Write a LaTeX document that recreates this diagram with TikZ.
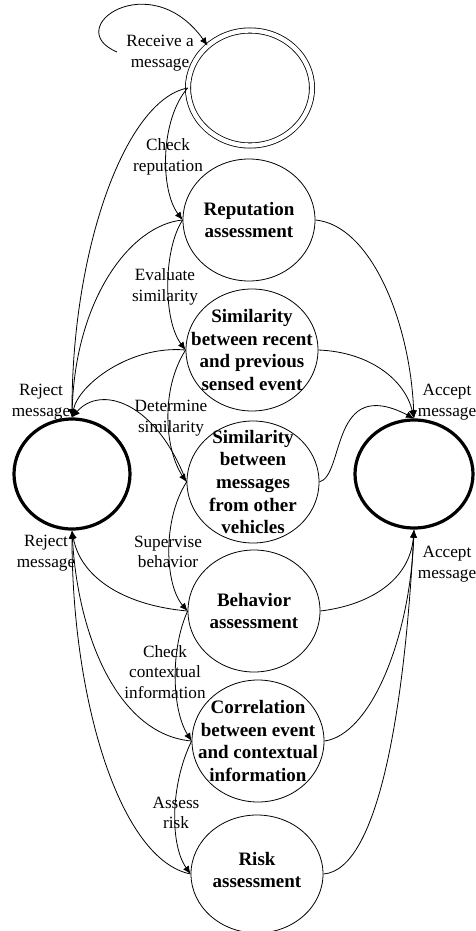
\documentclass[tikz,border=0pt]{standalone}
\usepackage{fontspec}
\setmainfont{Liberation Serif}
\usetikzlibrary{shapes.geometric,arrows.meta}
\begin{document}
\begin{tikzpicture}[x=0.5pt,y=-0.5pt,>={Latex[length=4pt,width=3.4pt]},
  state/.style={draw,ellipse,inner sep=0pt,minimum width=66pt,minimum height=61pt},
  stxt/.style={align=center,inner sep=0pt,font=\fontsize{9.5}{11.3}\selectfont\bfseries},
  lbl/.style={align=center,inner sep=0pt,font=\fontsize{8.6}{10.2}\selectfont},
  final/.style={draw,ellipse,line width=1.6pt,inner sep=0pt}]
\useasboundingbox (0,0) rectangle (476,931);
% states
\node[state,double,double distance=2.2pt,minimum width=62pt,minimum height=57.5pt] (start) at (250,88) {};
\node[state] (rep) at (249,220) {};
\node[stxt] (rep-t) at (rep) {Reputation\\assessment};
\node[state] (simrec) at (252,350) {};
\node[stxt] (simrec-t) at (simrec) {Similarity\\between recent\\and previous\\sensed event};
\node[state] (simmsg) at (253,482) {};
\node[stxt] (simmsg-t) at (simmsg) {Similarity\\between\\messages\\from other\\vehicles};
\node[state] (beh) at (254,611) {};
\node[stxt] (beh-t) at (beh) {Behavior\\assessment};
\node[state] (corr) at (258,741) {};
\node[stxt] (corr-t) at (corr) {Correlation\\between event\\and contextual\\information};
\node[state,minimum height=59pt] (risk) at (257,874) {};
\node[stxt] (risk-t) at (257,870) {Risk\\assessment};
\node[final,minimum width=58pt,minimum height=55pt] (reject) at (72,474) {};
\node[final,minimum width=59pt,minimum height=54pt] (accept) at (414,474) {};
% labels
\node[lbl] (recv) at (160,53) {Receive a\\message};
\node[lbl] (chkrep) at (168,157) {Check\\reputation};
\node[lbl] (evalsim) at (165,287) {Evaluate\\similarity};
\node[lbl] (detsim) at (171,418) {Determine\\similarity};
\node[lbl] (supbeh) at (168,552) {Supervise\\behavior};
\node[lbl] (chkctx) at (165,672) {Check\\contextual\\information};
\node[lbl] (assrisk) at (176,813) {Assess\\risk};
\node[lbl] (rejtop) at (41,402) {Reject\\message};
\node[lbl] (rejbot) at (46,553) {Reject\\message};
\node[lbl] (acctop) at (447,402) {Accept\\message};
\node[lbl] (accbot) at (447,564) {Accept\\message};
% transitions
\coordinate (loopst) at (117,52);
\draw[->] (loopst) .. controls (60,28) and (150,-35) .. (start.135);
\draw[->] (start.west) .. controls (160,120) and (160,190) .. (rep.west);
\draw[->] (rep.west) .. controls (163,250) and (163,320) .. (simrec.west);
\draw[->] (simrec.west) .. controls (160,390) and (165,450) .. (simmsg.west);
\draw[->] (simmsg.west) .. controls (162,520) and (165,585) .. (beh.west);
\draw[->] (beh.west) .. controls (170,650) and (172,710) .. (corr.west);
\draw[->] (corr.west) .. controls (170,785) and (170,845) .. (risk.west);
% to reject
\draw[->] (start.west) .. controls (125,100) and (72,250) .. (reject.north);
\draw[->] (rep.west) .. controls (130,225) and (75,300) .. (reject.north);
\draw[->] (simrec.west) .. controls (130,345) and (78,385) .. (reject.north);
\draw[->] (simmsg.west) .. controls (155,400) and (100,385) .. (reject.north);
\draw[->] (beh.west) .. controls (120,605) and (80,575) .. (reject.south);
\draw[->] (corr.west) .. controls (120,735) and (78,640) .. (reject.south);
\draw[->] (risk.west) .. controls (120,860) and (72,700) .. (reject.south);
% to accept
\draw[->] (rep.east) .. controls (370,225) and (410,320) .. (accept.north);
\draw[->] (simrec.east) .. controls (370,352) and (405,380) .. (accept.north);
\draw[->] (simmsg.east) .. controls (345,475) and (330,375) .. (accept.north);
\draw[->] (beh.east) .. controls (370,605) and (410,580) .. (accept.south);
\draw[->] (corr.east) .. controls (370,735) and (410,640) .. (accept.south);
\draw[->] (risk.east) .. controls (380,870) and (405,700) .. (accept.south);
\end{tikzpicture}
\end{document}
